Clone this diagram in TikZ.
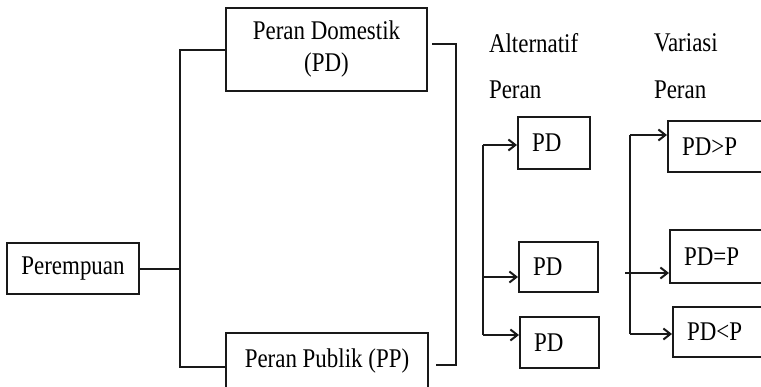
\documentclass[tikz,border=0pt]{standalone}
\usepackage{fontspec}
\setmainfont{Liberation Serif}[FakeStretch=0.85]
\usetikzlibrary{arrows.meta}

\begin{document}
\begin{tikzpicture}[x=1pt,y=-1pt,font=\fontsize{27}{32}\selectfont,
    line width=2pt,draw=black!90,
    box/.style={draw,inner xsep=14pt,inner ysep=0pt,align=left,anchor=west},
    arr/.style={-{Straight Barb[length=7pt,width=11pt]}}]
    \useasboundingbox (0,0) rectangle (761,386);
    \clip (0,0) rectangle (761,386);

    % main roles
    \node[draw,minimum width=132pt,minimum height=51pt] (per) at (73,268.5) {Perempuan};
    \node[draw,minimum width=201pt,minimum height=83pt,align=center] (pd) at (326.5,49.5) {Peran Domestik\\(PD)};
    \node[draw,minimum width=202pt,anchor=north,inner ysep=4pt,text height=30pt,text depth=30pt] (pp) at (327,332) {Peran Publik (PP)};

    \draw (per.east) -- ++(40,0) coordinate (j1);
    \draw (pd.west) -| (j1) |- (pp.west);
    \coordinate (j2) at (456,43.5);
    \draw ([xshift=4pt,yshift=6pt]pd.east) -- (j2) |- ([xshift=7pt,yshift=2pt]pp.east);

    % headings
    \node[anchor=west,inner sep=0pt] (alt) at (488,43) {Alternatif};
    \node[anchor=west,inner sep=0pt] (altp) at (488,90) {Peran};
    \node[anchor=west,inner sep=0pt] (var) at (653,43) {Variasi};
    \node[anchor=west,inner sep=0pt] (varp) at (653,90) {Peran};

    % alternatif peran
    \foreach \n/\x/\y/\h/\tw/\ay in {1/517/143/52/44/145, 2/518/267/50/51/277, 3/519/342.5/51/51/335} {
        \node[box,minimum height=\h pt,text width=\tw pt] (a\n) at (\x,\y) {PD};
        \coordinate (aa\n) at (483,\ay);
        \draw[arr] (aa\n) -- (aa\n -| a\n.west);
    }
    \draw (aa1) -- (aa3);

    % variasi peran
    \foreach \n/\x/\y/\h/\vx/\vy/\t in {1/667/146.5/51/630/135/PD>P, 2/669/256.5/53/625/273/PD=P, 3/672/332/50/630/334/PD<P} {
        \node[box,minimum height=\h pt,text width=110pt] (v\n) at (\x,\y) {\t};
        \coordinate (vv\n) at (\vx,\vy);
        \draw[arr] (vv\n) -- (vv\n -| v\n.west);
    }
    \draw (vv1) -- (vv3);
\end{tikzpicture}
\end{document}
